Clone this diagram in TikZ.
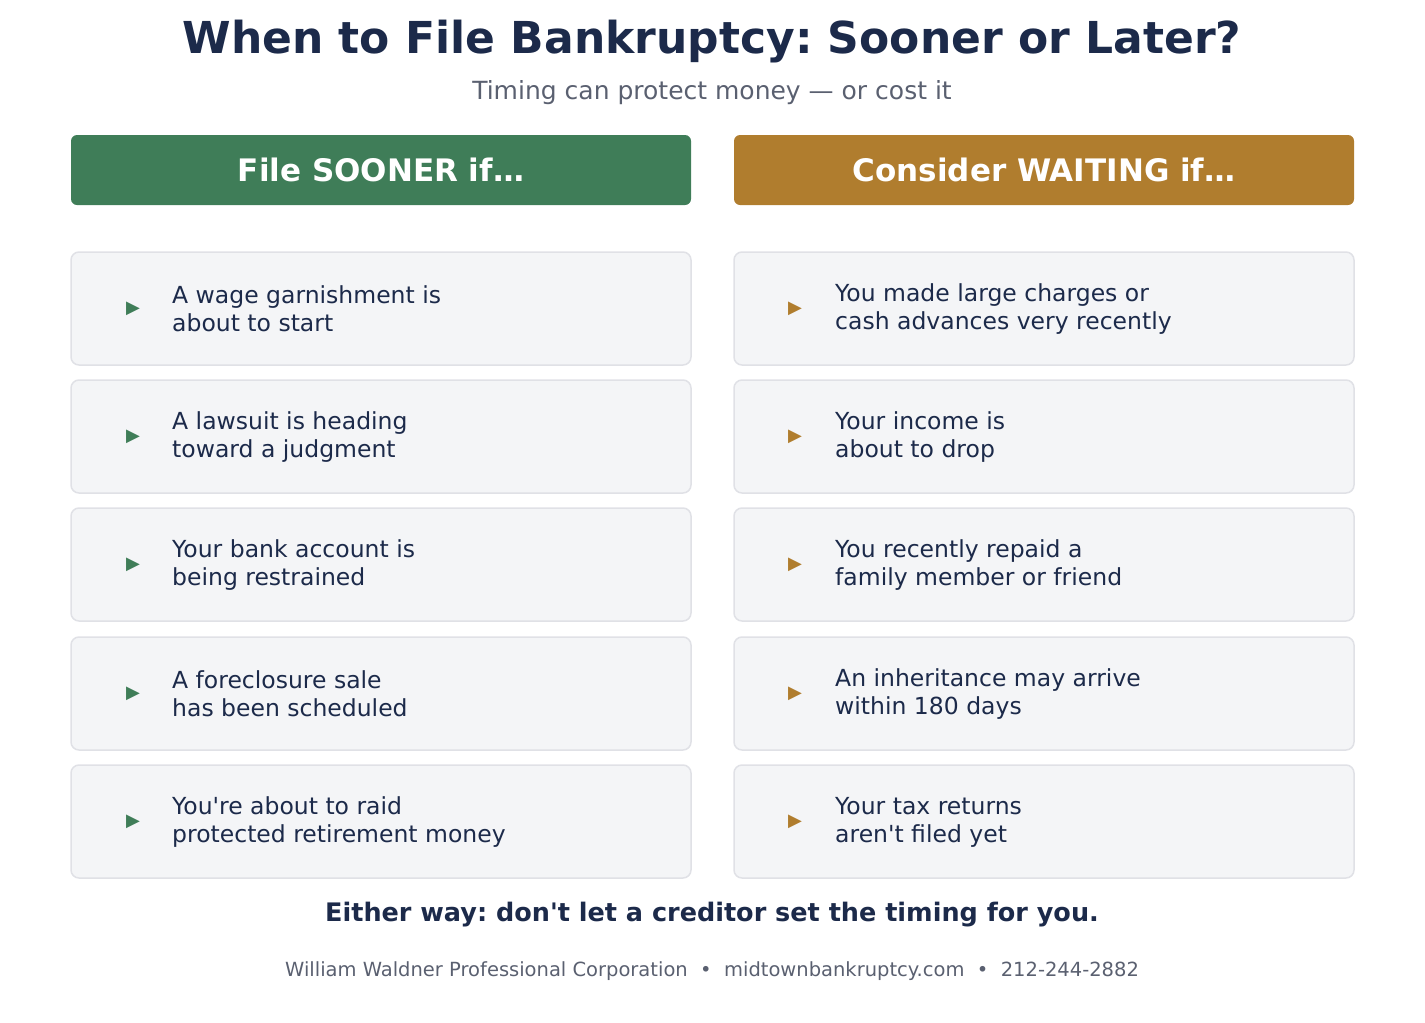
\documentclass[tikz,border=0pt]{standalone}
\usepackage{fontspec}
\setmainfont{DejaVu Sans}
\definecolor{navy}{HTML}{1C2A4A}
\definecolor{gre}{HTML}{3F7D58}
\definecolor{gold}{HTML}{B07D2E}
\definecolor{sub}{HTML}{5A6070}
\definecolor{boxf}{HTML}{F4F5F7}
\definecolor{boxd}{HTML}{E0E1E6}
\newcommand\apo{\textquotesingle}
\begin{document}
\frenchspacing
\begin{tikzpicture}[x=1pt,y=-1pt,
 hdr/.style={rounded corners=6pt,draw=none},
 item/.style={rounded corners=8pt,fill=boxf,draw=boxd,line width=1.5pt},
 txt/.style={anchor=west,align=left,text=navy,font=\fontsize{23.5}{28}\selectfont,inner sep=0},
 tri/.style={font=\fontsize{18}{18}\selectfont,inner sep=0}]
\useasboundingbox (0,0) rectangle (1425,1023);
\node[text=navy,font=\fontsize{44}{50}\selectfont\bfseries] (title) at (712,42) {When to File Bankruptcy: Sooner or Later?};
\node[text=sub,font=\fontsize{25}{30}\selectfont] (subt) at (712,93) {Timing can protect money — or cost it};
\fill[gre,hdr] (71,135) rectangle (691,205);
\fill[gold,hdr] (734,135) rectangle (1354,205);
\node[text=white,font=\fontsize{31}{36}\selectfont\bfseries] (hl) at (381,170) {File SOONER if…};
\node[text=white,font=\fontsize{31}{36}\selectfont\bfseries] (hr) at (1044,170) {Consider WAITING if…};
\foreach \i/\y/\a/\b in {
 1/252/{A wage garnishment is\\about to start}/{You made large charges or\\cash advances very recently},
 2/380/{A lawsuit is heading\\toward a judgment}/{Your income is\\about to drop},
 3/508/{Your bank account is\\being restrained}/{You recently repaid a\\family member or friend},
 4/637/{A foreclosure sale\\has been scheduled}/{An inheritance may arrive\\within 180 days},
 5/765/{You\apo re about to raid\\protected retirement money}/{Your tax returns\\aren\apo t filed yet}}{
 \draw[item] (71,\y) rectangle (691,\y+113);
 \draw[item] (734,\y) rectangle (1354,\y+113);
 \node[tri,text=gre] (tl\i) at (133,\y+57) {▶};
 \node[tri,text=gold] (tr\i) at (795,\y+57) {▶};
 \node[txt] (l\i) at (172,\y+57) {\a};
 \node[txt] (r\i) at (835,\y+57) {\b};
}
\node[text=navy,font=\fontsize{25.5}{30}\selectfont\bfseries] (either) at (712,915) {Either way: don\apo t let a creditor set the timing for you.};
\node[text=sub,font=\fontsize{19.5}{23}\selectfont] (foot) at (712,971) {William Waldner Professional Corporation \ • \ midtownbankruptcy.com \ • \ 212-244-2882};
\end{tikzpicture}
\end{document}
